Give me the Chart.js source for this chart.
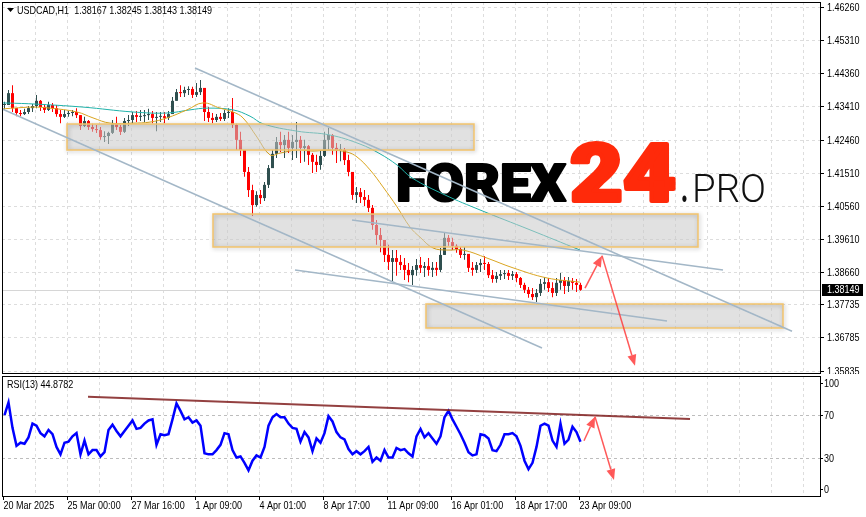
<!DOCTYPE html>
<html>
<head>
<meta charset="utf-8">
<title>USDCAD H1</title>
<script src="https://cdn.jsdelivr.net/npm/chart.js@4.4.1/dist/chart.umd.min.js"></script>
<style>
  html, body { margin: 0; padding: 0; background: #fff; }
  #wrap { position: relative; width: 866px; height: 517px; overflow: hidden; }
  #mainBox { position: absolute; left: 0; top: 0; width: 866px; height: 374px; }
  #rsiBox { position: absolute; left: 0; top: 374px; width: 866px; height: 143px; }
</style>
</head>
<body>
<div id="wrap">
  <div id="mainBox"><canvas id="mainChart"></canvas></div>
  <div id="rsiBox"><canvas id="rsiChart"></canvas></div>
</div>
<script>
// ========== DADOS ==========

const symbolTitle = 'USDCAD,H1  1.38167 1.38245 1.38143 1.38149';
const rsiTitle = 'RSI(13) 44.8782';
const lastPrice = 1.38149;
const firstOpen = 1.4345;
const barsPerCandle = 4; // cada candle desenhado junta 4 barras H1

const timeLabels = ['20 Mar 2025', '25 Mar 00:00', '27 Mar 16:00', '1 Apr 09:00', '4 Apr 01:00',
  '8 Apr 17:00', '11 Apr 09:00', '16 Apr 01:00', '18 Apr 17:00', '23 Apr 09:00'];
const tickBars = [0, 64, 128, 192, 256, 320, 384, 448, 512, 576];

const priceTicks = [1.46260, 1.45310, 1.44360, 1.43410, 1.42460, 1.41510,
  1.40560, 1.39610, 1.38660, 1.37735, 1.36785, 1.35835];
const rsiTicks = [100, 70, 30, 0];
const rsiLevels = [70, 30];

const highs = [
  1.4354, 1.4388, 1.4402, 1.4336, 1.4331, 1.4334, 1.4342, 1.4348, 1.4374, 1.4359,
  1.4348, 1.4354, 1.4351, 1.4345, 1.4331, 1.4331, 1.4328, 1.4331, 1.4336, 1.4316,
  1.4311, 1.4302, 1.4291, 1.4288, 1.4282, 1.4270, 1.4268, 1.4302, 1.4311, 1.4288,
  1.4308, 1.4316, 1.4325, 1.4328, 1.4331, 1.4331, 1.4334, 1.4328, 1.4325, 1.4325,
  1.4325, 1.4328, 1.4368, 1.4391, 1.4402, 1.4397, 1.4399, 1.4397, 1.4408, 1.4417,
  1.4394, 1.4339, 1.4322, 1.4319, 1.4322, 1.4331, 1.4336, 1.4365, 1.4291, 1.4268,
  1.4216, 1.4167, 1.4116, 1.4098, 1.4101, 1.4124, 1.4173, 1.4216, 1.4253, 1.4268,
  1.4259, 1.4268, 1.4259, 1.4296, 1.4256, 1.4245, 1.4230, 1.4207, 1.4202, 1.4216,
  1.4268, 1.4279, 1.4262, 1.4236, 1.4233, 1.4222, 1.4202, 1.4153, 1.4110, 1.4107,
  1.4101, 1.4087, 1.4058, 1.4015, 1.3992, 1.3958, 1.3944, 1.3929, 1.3929, 1.3915,
  1.3906, 1.3892, 1.3883, 1.3903, 1.3909, 1.3895, 1.3906, 1.3895, 1.3895, 1.3935,
  1.3978, 1.3972, 1.3964, 1.3946, 1.3938, 1.3938, 1.3915, 1.3895, 1.3895, 1.3903,
  1.3912, 1.3895, 1.3872, 1.3866, 1.3872, 1.3872, 1.3872, 1.3869, 1.3866, 1.3852,
  1.3835, 1.3823, 1.3820, 1.3817, 1.3846, 1.3852, 1.3849, 1.3837, 1.3849, 1.3863,
  1.3852, 1.3852, 1.3849, 1.3846, 1.3835
];
const lows = [
  1.4331, 1.4348, 1.4325, 1.4313, 1.4313, 1.4316, 1.4319, 1.4325, 1.4336, 1.4328,
  1.4322, 1.4328, 1.4325, 1.4311, 1.4293, 1.4308, 1.4311, 1.4313, 1.4308, 1.4273,
  1.4282, 1.4273, 1.4268, 1.4265, 1.4245, 1.4239, 1.4233, 1.4262, 1.4273, 1.4259,
  1.4265, 1.4285, 1.4293, 1.4296, 1.4299, 1.4296, 1.4302, 1.4293, 1.4270, 1.4296,
  1.4293, 1.4302, 1.4322, 1.4357, 1.4368, 1.4368, 1.4374, 1.4365, 1.4368, 1.4374,
  1.4299, 1.4296, 1.4293, 1.4296, 1.4299, 1.4299, 1.4308, 1.4279, 1.4216, 1.4199,
  1.4139, 1.4081, 1.4027, 1.4053, 1.4061, 1.4070, 1.4107, 1.4164, 1.4193, 1.4210,
  1.4193, 1.4207, 1.4187, 1.4193, 1.4179, 1.4182, 1.4173, 1.4150, 1.4153, 1.4159,
  1.4196, 1.4216, 1.4202, 1.4179, 1.4184, 1.4173, 1.4141, 1.4073, 1.4064, 1.4064,
  1.4055, 1.4038, 1.3987, 1.3944, 1.3923, 1.3895, 1.3872, 1.3840, 1.3855, 1.3872,
  1.3843, 1.3837, 1.3829, 1.3855, 1.3863, 1.3852, 1.3855, 1.3852, 1.3855, 1.3866,
  1.3915, 1.3941, 1.3929, 1.3921, 1.3906, 1.3901, 1.3866, 1.3855, 1.3863, 1.3866,
  1.3872, 1.3849, 1.3835, 1.3835, 1.3843, 1.3846, 1.3843, 1.3843, 1.3837, 1.3820,
  1.3806, 1.3792, 1.3786, 1.3780, 1.3797, 1.3815, 1.3809, 1.3794, 1.3797, 1.3815,
  1.3803, 1.3809, 1.3815, 1.3809, 1.3812
];
const closes = [
  1.4345, 1.4379, 1.4336, 1.4322, 1.4319, 1.4325, 1.4336, 1.4342, 1.4357, 1.4339,
  1.4331, 1.4345, 1.4336, 1.4319, 1.4311, 1.4319, 1.4322, 1.4325, 1.4316, 1.4285,
  1.4299, 1.4282, 1.4276, 1.4273, 1.4253, 1.4256, 1.4265, 1.4291, 1.4282, 1.4268,
  1.4299, 1.4302, 1.4316, 1.4311, 1.4313, 1.4316, 1.4319, 1.4308, 1.4311, 1.4313,
  1.4308, 1.4319, 1.4357, 1.4382, 1.4379, 1.4388, 1.4391, 1.4374, 1.4382, 1.4394,
  1.4325, 1.4308, 1.4302, 1.4311, 1.4305, 1.4322, 1.4325, 1.4288, 1.4245, 1.4216,
  1.4153, 1.4101, 1.4058, 1.4087, 1.4078, 1.4116, 1.4164, 1.4205, 1.4239, 1.4230,
  1.4245, 1.4222, 1.4239, 1.4245, 1.4222, 1.4227, 1.4202, 1.4182, 1.4173, 1.4199,
  1.4245, 1.4259, 1.4222, 1.4216, 1.4216, 1.4187, 1.4153, 1.4087, 1.4095, 1.4081,
  1.4073, 1.4050, 1.4001, 1.3972, 1.3958, 1.3915, 1.3895, 1.3906, 1.3895, 1.3886,
  1.3872, 1.3857, 1.3872, 1.3886, 1.3878, 1.3883, 1.3872, 1.3878, 1.3872, 1.3915,
  1.3964, 1.3952, 1.3941, 1.3932, 1.3915, 1.3918, 1.3878, 1.3872, 1.3886, 1.3892,
  1.3889, 1.3857, 1.3846, 1.3855, 1.3860, 1.3863, 1.3855, 1.3860, 1.3849, 1.3829,
  1.3815, 1.3803, 1.3794, 1.3806, 1.3832, 1.3837, 1.3820, 1.3806, 1.3835, 1.3843,
  1.3826, 1.3840, 1.3835, 1.3829, 1.38149
];

const rsiValues = [
  70, 82, 58, 41, 44, 43, 49, 62, 60, 53,
  50, 56, 52, 40, 33, 44, 45, 50, 53, 33,
  46, 33, 37, 37, 31, 35, 56, 61, 55, 50,
  55, 60, 65, 57, 58, 62, 65, 66, 42, 52,
  51, 52, 66, 81, 74, 66, 68, 63, 65, 60,
  34, 33, 33, 37, 42, 53, 52, 37, 30, 31,
  25, 18, 27, 32, 30, 40, 60, 68, 71, 68,
  68, 62, 58, 57, 45, 54, 49, 36, 48, 44,
  53, 69, 64, 54, 49, 47, 38, 33, 36, 33,
  36, 40, 26, 30, 27, 37, 30, 30, 39, 37,
  38, 34, 31, 50, 57, 49, 53, 48, 43, 50,
  68, 74, 66, 59, 52, 44, 35, 32, 33, 52,
  51, 48, 37, 36, 42, 52, 52, 53, 50, 41,
  27, 19, 25, 40, 60, 62, 60, 46, 40, 62,
  43, 47, 59, 54, 44.88
];

// medias moveis (barra, preco)
const maFastBars = [0, 10, 30, 47, 74, 90, 107, 130, 147, 164, 184, 200, 217, 230, 240, 254, 267, 277,
  294, 310, 327, 344, 354, 367, 380, 394, 407, 417, 430, 444, 460, 484, 510, 544, 577];
const maFast = [1.4334, 1.4336, 1.4339, 1.4336, 1.4325, 1.4308, 1.4293, 1.4293, 1.4296, 1.4308,
  1.4331, 1.4351, 1.4336, 1.4325, 1.4308, 1.4253, 1.4202, 1.4207, 1.4216, 1.4213, 1.4216, 1.4210,
  1.4196, 1.4159, 1.4110, 1.4053, 1.3995, 1.3966, 1.3935, 1.3929, 1.3929, 1.3906, 1.3878, 1.3849, 1.3837];
const maSlowBars = [0, 30, 80, 130, 164, 187, 204, 230, 247, 260, 294, 327, 357, 377, 394, 409, 442, 477, 527, 577];
const maSlow = [1.4351, 1.4348, 1.4339, 1.4325, 1.4322, 1.4331, 1.4336, 1.4331, 1.4313, 1.4291,
  1.4270, 1.4259, 1.4233, 1.4205, 1.4173, 1.4136, 1.4087, 1.4044, 1.3987, 1.3929];

// zonas (retangulos) em barras / preco
const zoneStart = [64, 210, 423];
const zoneEnd = [471, 695, 780];
const zoneHigh = [1.42905, 1.40324, 1.37743];
const zoneLow = [1.42159, 1.39378, 1.37055];

// linhas de tendencia do preco
const trendFromBar = [192, -3, 349, 292];
const trendFromPrice = [1.44511, 1.43364, 1.40152, 1.38718];
const trendToBar = [789, 539, 720, 664];
const trendToPrice = [1.36960, 1.36481, 1.38718, 1.37255];

// setas de previsao: inicio, vertice, fim
const priceArrowBars = [582, 599, 632];
const priceArrowValues = [1.3820, 1.3913, 1.3597];
const rsiArrowBars = [581, 592, 611];
const rsiArrowValues = [45.8, 68.5, 8.8];

// linha de tendencia do RSI
const rsiTrendBars = [85, 687];
const rsiTrendValues = [87.4, 66.3];

// ========== ESTILO ==========

const FONT = "11px 'Liberation Sans', Arial, sans-serif";
const NARROW = 0.82; // simula fonte estreita do MT4
const BULL = '#2F4F4F';
const BEAR = '#FF0000';
const GRID = '#DDDDDD';
const GRID_STEP = 32;
const X_MIN = -1;
const X_MAX = 817;

const candleX = closes.map((_, i) => i * barsPerCandle + 1.5);
const opens = closes.map((c, i) => (i === 0 ? firstOpen : closes[i - 1]));
const candleColors = closes.map((c, i) => (c >= opens[i] ? BULL : BEAR));

function seg(ctx, x0, y0, x1, y1) {
  ctx.beginPath();
  ctx.moveTo(x0, y0);
  ctx.lineTo(x1, y1);
  ctx.stroke();
}

function label(ctx, text, x, y, color) {
  ctx.save();
  ctx.font = FONT;
  ctx.fillStyle = color || '#000';
  ctx.textBaseline = 'middle';
  ctx.textAlign = 'left';
  ctx.translate(x, y);
  ctx.scale(NARROW, 1);
  ctx.fillText(text, 0, 0);
  ctx.restore();
}

function arrow(ctx, x0, y0, x1, y1, color) {
  const ang = Math.atan2(y1 - y0, x1 - x0);
  const len = 11, half = 4.5;
  const bx = x1 - len * Math.cos(ang), by = y1 - len * Math.sin(ang);
  ctx.strokeStyle = color;
  ctx.fillStyle = color;
  ctx.lineWidth = 1.5;
  seg(ctx, x0, y0, bx, by);
  ctx.beginPath();
  ctx.moveTo(x1, y1);
  ctx.lineTo(bx + half * Math.sin(ang), by - half * Math.cos(ang));
  ctx.lineTo(bx - half * Math.sin(ang), by + half * Math.cos(ang));
  ctx.closePath();
  ctx.fill();
}

function drawFitted(ctx, text, left, baseline, width, font, color, stroke) {
  ctx.font = font;
  const w = ctx.measureText(text).width;
  ctx.save();
  ctx.translate(left, baseline);
  ctx.scale(width / w, 1);
  ctx.fillStyle = color;
  ctx.textBaseline = 'alphabetic';
  ctx.textAlign = 'left';
  ctx.fillText(text, 0, 0);
  if (stroke) {
    ctx.strokeStyle = color;
    ctx.lineWidth = stroke;
    ctx.lineJoin = 'round';
    ctx.strokeText(text, 0, 0);
  }
  ctx.restore();
}

function drawVerticalGrid(ctx, a, x) {
  ctx.strokeStyle = GRID;
  ctx.lineWidth = 1;
  ctx.setLineDash([3, 3]);
  for (let b = GRID_STEP; b < X_MAX; b += GRID_STEP) {
    const px = Math.round(x.getPixelForValue(b)) + 0.5;
    seg(ctx, px, a.top, px, a.bottom);
  }
  ctx.setLineDash([]);
}

// ========== PAINEL DE PRECO ==========

const mainDecor = {
  id: 'mainDecor',
  beforeDatasetsDraw(chart) {
    const { ctx, chartArea: a, scales: { x, y } } = chart;
    ctx.save();
    drawVerticalGrid(ctx, a, x);
    ctx.strokeStyle = GRID;
    ctx.setLineDash([3, 3]);
    priceTicks.forEach(v => {
      const py = Math.round(y.getPixelForValue(v)) + 0.5;
      seg(ctx, a.left, py, a.right, py);
    });
    ctx.setLineDash([]);

    // linha do ultimo preco
    ctx.strokeStyle = '#D6D6D6';
    const lp = Math.round(y.getPixelForValue(lastPrice)) + 0.5;
    seg(ctx, a.left, lp, a.right, lp);

    // marca d'agua
    drawFitted(ctx, 'FOREX', 396, 201, 170, "900 51px Roboto, 'Open Sans', sans-serif", '#000000', 2);
    drawFitted(ctx, '24', 570, 201, 106, "900 80px Roboto, 'Open Sans', sans-serif", '#FF2A0A', 4);
    drawFitted(ctx, '.', 681, 202, 7, "900 38px Roboto, sans-serif", '#111111');
    drawFitted(ctx, 'PRO', 692, 202, 74, "300 38px Roboto, 'Open Sans', sans-serif", '#111111');
    ctx.restore();
  },
  afterDatasetsDraw(chart) {
    const { ctx, chartArea: a, scales: { x, y } } = chart;
    ctx.save();
    ctx.beginPath();
    ctx.rect(a.left, a.top, a.right - a.left, a.bottom - a.top);
    ctx.clip();

    // zonas
    zoneStart.forEach((b0, i) => {
      const x0 = x.getPixelForValue(b0), x1 = x.getPixelForValue(zoneEnd[i]);
      const y0 = y.getPixelForValue(zoneHigh[i]), y1 = y.getPixelForValue(zoneLow[i]);
      ctx.fillStyle = 'rgba(200,200,200,0.55)';
      ctx.fillRect(x0, y0, x1 - x0, y1 - y0);
      ctx.save();
      ctx.shadowColor = 'rgba(0,0,0,0.3)';
      ctx.shadowBlur = 4;
      ctx.shadowOffsetX = 1;
      ctx.shadowOffsetY = 1;
      ctx.strokeStyle = '#F3C46C';
      ctx.lineWidth = 1.5;
      ctx.strokeRect(x0, y0, x1 - x0, y1 - y0);
      ctx.restore();
    });

    // linhas de tendencia
    ctx.strokeStyle = '#A3B7C7';
    ctx.lineWidth = 1.5;
    trendFromBar.forEach((b0, i) => {
      seg(ctx, x.getPixelForValue(b0), y.getPixelForValue(trendFromPrice[i]),
        x.getPixelForValue(trendToBar[i]), y.getPixelForValue(trendToPrice[i]));
    });

    // setas
    const px = priceArrowBars.map(b => x.getPixelForValue(b));
    const py = priceArrowValues.map(v => y.getPixelForValue(v));
    arrow(ctx, px[0], py[0], px[1], py[1], 'rgba(255,60,60,0.85)');
    arrow(ctx, px[1], py[1], px[2], py[2], 'rgba(255,60,60,0.85)');
    ctx.restore();

    ctx.save();
    // borda
    ctx.strokeStyle = '#000';
    ctx.lineWidth = 1;
    ctx.strokeRect(a.left + 0.5, a.top + 0.5, a.right - a.left, a.bottom - a.top);
    // eixo de precos
    priceTicks.forEach(v => {
      const ty = Math.round(y.getPixelForValue(v)) + 0.5;
      seg(ctx, a.right, ty, a.right + 4, ty);
      label(ctx, v.toFixed(5), a.right + 7, ty);
    });

    // titulo
    ctx.fillStyle = '#000';
    ctx.beginPath();
    ctx.moveTo(7, 8);
    ctx.lineTo(14, 8);
    ctx.lineTo(10.5, 12);
    ctx.closePath();
    ctx.fill();
    label(ctx, symbolTitle, 17, 11);

    // etiqueta do ultimo preco
    const lp = Math.round(y.getPixelForValue(lastPrice));
    ctx.fillStyle = '#000';
    ctx.fillRect(a.right + 2, lp - 6, 41, 12);
    label(ctx, lastPrice.toFixed(5), a.right + 7, lp, '#fff');
    ctx.restore();
  }
};

new Chart(document.getElementById('mainChart'), {
  type: 'bar',
  data: {
    datasets: [
      {
        type: 'line',
        label: 'MA rapida',
        data: maFastBars.map((b, i) => ({ x: b, y: maFast[i] })),
        borderColor: '#DAA520',
        borderWidth: 1,
        pointRadius: 0,
        tension: 0.4,
        order: 0
      },
      {
        type: 'line',
        label: 'MA lenta',
        data: maSlowBars.map((b, i) => ({ x: b, y: maSlow[i] })),
        borderColor: '#20B2AA',
        borderWidth: 1,
        pointRadius: 0,
        tension: 0.4,
        order: 0
      },
      {
        label: 'Sombras',
        data: candleX.map((cx, i) => ({ x: cx, y: [lows[i], highs[i]] })),
        backgroundColor: candleColors,
        barThickness: 1,
        grouped: false,
        borderWidth: 0,
        inflateAmount: 0,
        order: 2
      },
      {
        label: 'Corpos',
        data: candleX.map((cx, i) => ({ x: cx, y: [opens[i], closes[i]] })),
        backgroundColor: candleColors,
        barThickness: 3,
        minBarLength: 1,
        grouped: false,
        borderWidth: 0,
        inflateAmount: 0,
        order: 1
      }
    ]
  },
  options: {
    responsive: true,
    maintainAspectRatio: false,
    animation: false,
    layout: { padding: { left: 2, top: 2, right: 0, bottom: 1 } },
    plugins: { legend: { display: false }, tooltip: { enabled: false } },
    scales: {
      x: { type: 'linear', min: X_MIN, max: X_MAX, offset: false, display: false },
      y: {
        position: 'right',
        min: 1.35764,
        max: 1.46404,
        grid: { display: false, drawTicks: false },
        border: { display: false },
        afterBuildTicks: s => { s.ticks = priceTicks.map(v => ({ value: v })); },
        afterFit: s => { s.width = 46; s.paddingTop = 0; s.paddingBottom = 0; },
        ticks: { display: false }
      }
    }
  },
  plugins: [mainDecor]
});

// ========== PAINEL RSI ==========

const rsiDecor = {
  id: 'rsiDecor',
  beforeDatasetsDraw(chart) {
    const { ctx, chartArea: a, scales: { x, y } } = chart;
    ctx.save();
    drawVerticalGrid(ctx, a, x);
    ctx.strokeStyle = '#BDBDBD';
    ctx.setLineDash([3, 3]);
    rsiLevels.forEach(v => {
      const py = Math.round(y.getPixelForValue(v)) + 0.5;
      seg(ctx, a.left, py, a.right, py);
    });
    ctx.restore();
  },
  afterDatasetsDraw(chart) {
    const { ctx, chartArea: a, scales: { x, y } } = chart;
    ctx.save();
    ctx.beginPath();
    ctx.rect(a.left, a.top, a.right - a.left, a.bottom - a.top);
    ctx.clip();
    ctx.strokeStyle = 'rgba(128,30,30,0.85)';
    ctx.lineWidth = 2;
    seg(ctx, x.getPixelForValue(rsiTrendBars[0]), y.getPixelForValue(rsiTrendValues[0]),
      x.getPixelForValue(rsiTrendBars[1]), y.getPixelForValue(rsiTrendValues[1]));
    const px = rsiArrowBars.map(b => x.getPixelForValue(b));
    const py = rsiArrowValues.map(v => y.getPixelForValue(v));
    arrow(ctx, px[0], py[0], px[1], py[1], 'rgba(255,60,60,0.85)');
    arrow(ctx, px[1], py[1], px[2], py[2], 'rgba(255,60,60,0.85)');
    ctx.restore();

    ctx.save();
    ctx.strokeStyle = '#000';
    ctx.lineWidth = 1;
    ctx.strokeRect(a.left + 0.5, a.top + 0.5, a.right - a.left, a.bottom - a.top);
    tickBars.forEach((b, i) => {
      const tx = Math.round(x.getPixelForValue(b)) + 0.5;
      seg(ctx, tx, a.bottom, tx, a.bottom + 4);
      label(ctx, timeLabels[i], tx, a.bottom + 10);
    });
    rsiTicks.forEach(v => {
      const ty = Math.round(y.getPixelForValue(v)) + 0.5;
      seg(ctx, a.right, ty, a.right + 3, ty);
      label(ctx, String(v), a.right + 4, ty);
    });
    label(ctx, rsiTitle, 7, a.top + 9);
    ctx.restore();
  }
};

new Chart(document.getElementById('rsiChart'), {
  type: 'line',
  data: {
    datasets: [{
      label: 'RSI(13)',
      data: candleX.map((cx, i) => ({ x: cx, y: rsiValues[i] })),
      borderColor: '#0000FF',
      borderWidth: 2.5,
      pointRadius: 0,
      tension: 0
    }]
  },
  options: {
    responsive: true,
    maintainAspectRatio: false,
    animation: false,
    layout: { padding: { left: 2, top: 2, right: 0, bottom: 0 } },
    plugins: { legend: { display: false }, tooltip: { enabled: false } },
    scales: {
      x: {
        type: 'linear',
        min: X_MIN,
        max: X_MAX,
        offset: false,
        grid: { display: false, drawTicks: false },
        border: { display: false },
        afterBuildTicks: s => { s.ticks = tickBars.map(v => ({ value: v })); },
        afterFit: s => { s.height = 21; s.paddingLeft = 0; s.paddingRight = 0; },
        ticks: { display: false }
      },
      y: {
        position: 'right',
        min: -6.3,
        max: 106.9,
        grid: { display: false, drawTicks: false },
        border: { display: false },
        afterBuildTicks: s => { s.ticks = rsiTicks.map(v => ({ value: v })); },
        afterFit: s => { s.width = 46; s.paddingTop = 0; s.paddingBottom = 0; },
        ticks: { display: false }
      }
    }
  },
  plugins: [rsiDecor]
});
</script>
</body>
</html>
